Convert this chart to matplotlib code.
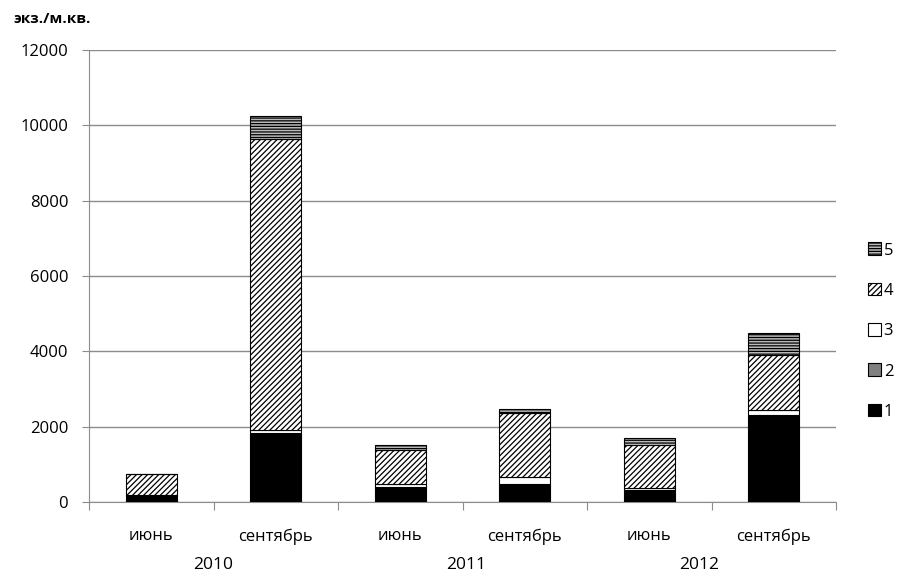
import numpy as np
import matplotlib
matplotlib.use("Agg")
import matplotlib.pyplot as plt

plt.rcParams['font.family'] = ['Open Sans', 'DejaVu Sans']
plt.rcParams['hatch.linewidth'] = 0.9

months = ['июнь', 'сентябрь', 'июнь', 'сентябрь', 'июнь', 'сентябрь']
years = ['2010', '2011', '2012']
year_pos = [0.5, 2.53, 4.4]
s1 = [180, 1830, 370, 450, 290, 2280]
s2 = [5, 10, 40, 20, 40, 30]
s3 = [10, 70, 70, 190, 40, 130]
s4 = [545, 7730, 900, 1700, 1140, 1460]
s5 = [0, 620, 130, 110, 200, 580]

series = [('1', s1, 'black', None),
          ('2', s2, '#808080', None),
          ('3', s3, 'white', None),
          ('4', s4, 'white', '//////'),
          ('5', s5, '#bbbbbb', '------')]

fig = plt.figure(figsize=(8.99, 5.74), dpi=100)
ax = fig.add_axes([89/899, 72/574, 747/899, 452/574])

x = np.arange(len(months))
bottom = np.zeros(len(months))
handles = []
for name, vals, color, hatch in series:
    b = ax.bar(x, vals, width=0.41, bottom=bottom, color=color, hatch=hatch,
               edgecolor='black', linewidth=0.8, label=name, zorder=3)
    handles.append(b)
    bottom += np.array(vals)

ax.set_xlim(-0.5, 5.5)
ax.set_ylim(0, 12000)
ax.set_yticks(range(0, 12001, 2000))
ax.yaxis.grid(True, color='#8c8c8c', linewidth=1, zorder=0)
ax.set_axisbelow(True)
for s in ['top', 'right']:
    ax.spines[s].set_visible(False)
ax.spines['left'].set_color('#8c8c8c')
ax.spines['bottom'].set_color('#8c8c8c')
ax.tick_params(axis='y', length=5, color='#8c8c8c', labelsize=12, pad=10)
ax.set_xticks(np.arange(-0.5, 6, 1))
ax.set_xticklabels([])
ax.tick_params(axis='x', length=6, color='#8c8c8c')
ax.set_xticks(x, minor=True)
ax.set_xticklabels(months, minor=True, fontsize=12)
ax.tick_params(axis='x', which='minor', length=0, pad=19)

for pos, yr in zip(year_pos, years):
    ax.text(pos, -0.14, yr, transform=ax.get_xaxis_transform(),
            ha='center', va='center', fontsize=12.5)

fig.text(13/899, 1 - 19/574, 'экз./м.кв.', fontsize=11, fontweight='bold',
         va='center', ha='left')

ax.legend(handles[::-1], [h.get_label() for h in handles[::-1]],
          loc='center left', bbox_to_anchor=(1.027, 0.378), frameon=False,
          handlelength=0.8, handleheight=0.8, handletextpad=0.15,
          labelspacing=1.45, fontsize=12, borderaxespad=0.3)

fig.savefig('out.png', dpi=100)
